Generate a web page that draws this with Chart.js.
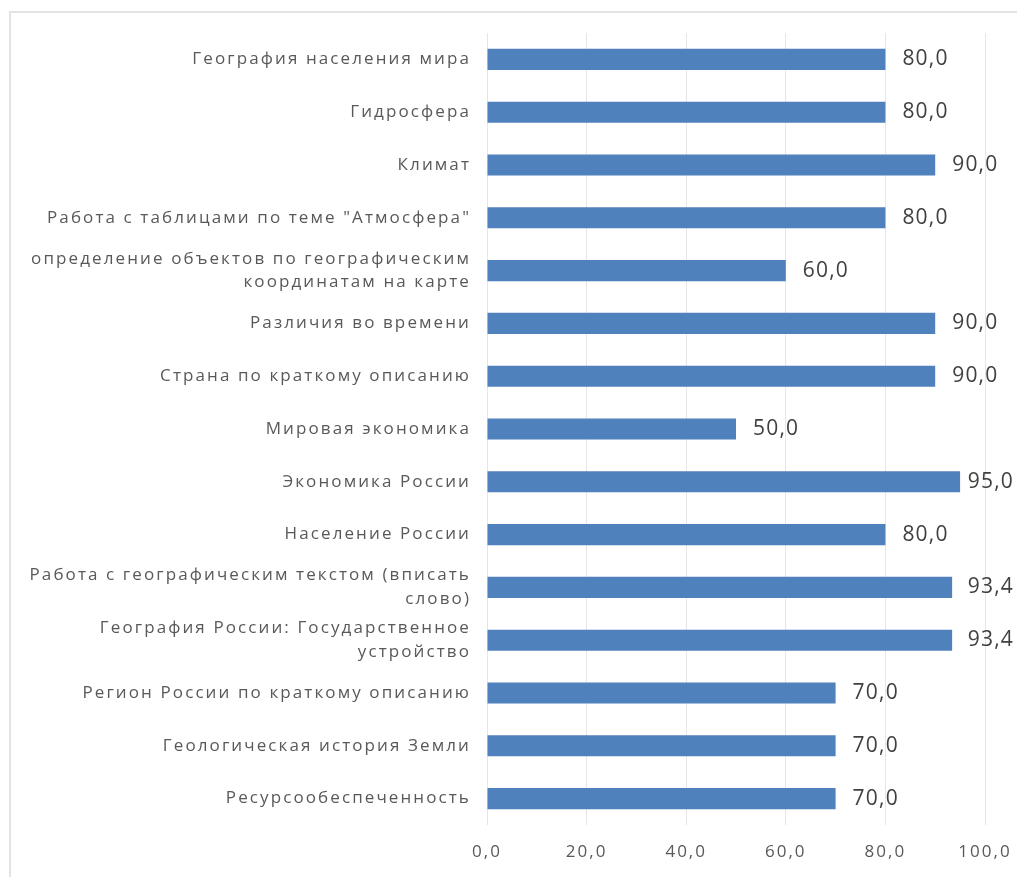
<!DOCTYPE html>
<html>
<head>
<meta charset="utf-8">
<script src="https://cdn.jsdelivr.net/npm/chart.js@4/dist/chart.umd.min.js"></script>
<style>
  body { margin: 0; background: #fff; overflow: hidden; }
  .frame { position: absolute; left: 9px; top: 11px; right: 0; bottom: 0; border-left: 2px solid #e3e3e3; border-top: 2px solid #e3e3e3; }
  .wrap { position: absolute; left: 0; top: 0; width: 1017px; height: 877px; }
</style>
</head>
<body>
<div class="frame"></div>
<div class="wrap"><canvas id="myChart"></canvas></div>
<script>
const topics = [
  'География населения мира',
  'Гидросфера',
  'Климат',
  'Работа с таблицами по теме "Атмосфера"',
  ['определение объектов по географическим', 'координатам на карте'],
  'Различия во времени',
  'Страна по краткому описанию',
  'Мировая экономика',
  'Экономика России',
  'Население России',
  ['Работа с географическим текстом (вписать', 'слово)'],
  ['География России: Государственное', 'устройство'],
  'Регион России по краткому описанию',
  'Геологическая история Земли',
  'Ресурсообеспеченность'
];
const scores = [80, 80, 90, 80, 60, 90, 90, 50, 95, 80, 93.4, 93.4, 70, 70, 70];
const xTicks = [0, 20, 40, 60, 80, 100];

const fmt = v => Number(v).toFixed(1).replace('.', ',');

// numbers at the end of each bar
const valueLabels = {
  id: 'valueLabels',
  afterDatasetsDraw(chart) {
    const c = chart.ctx;
    const meta = chart.getDatasetMeta(0);
    c.save();
    c.font = '21px "Open Sans"';
    c.letterSpacing = '1.2px';
    c.fillStyle = '#404040';
    c.textBaseline = 'middle';
    c.textAlign = 'left';
    meta.data.forEach((bar, i) => {
      const txt = fmt(scores[i]);
      const w = c.measureText(txt).width;
      let x = bar.x + 17;
      if (x + w > chart.width - 3) x = chart.width - 3 - w;
      c.fillText(txt, x, bar.y);
    });
    c.restore();
  }
};

// Excel-like spaced text on both axes
function spaceOut(chart, scale, gap) {
  if (scale._spaced) return;
  const orig = scale.drawLabels;
  scale.drawLabels = function (area) {
    chart.ctx.save();
    chart.ctx.letterSpacing = gap;
    orig.call(this, area);
    chart.ctx.restore();
  };
  scale._spaced = true;
}
const spacedTicks = {
  id: 'spacedTicks',
  afterLayout(chart) {
    spaceOut(chart, chart.scales.x, '2px');
    spaceOut(chart, chart.scales.y, '2.1px');
  }
};

const ctx = document.getElementById('myChart').getContext('2d');
new Chart(ctx, {
  type: 'bar',
  data: {
    labels: topics,
    datasets: [{
      data: scores,
      backgroundColor: '#4f81bd',
      barPercentage: 0.4,
      categoryPercentage: 1
    }]
  },
  options: {
    indexAxis: 'y',
    responsive: true,
    maintainAspectRatio: false,
    animation: false,
    layout: { padding: { top: 33, right: 32, left: 0, bottom: 0 } },
    plugins: { legend: { display: false }, tooltip: { enabled: false } },
    scales: {
      x: {
        min: 0,
        max: 100,
        afterBuildTicks: s => { s.ticks = xTicks.map(v => ({ value: v })); },
        afterFit: s => { s.height = 52; s.paddingLeft = 0; s.paddingRight = 0; },
        grid: { color: '#e6e6e6', drawTicks: false },
        border: { display: false },
        ticks: {
          padding: 17,
          color: '#595959',
          font: { family: '"Open Sans"', size: 17 },
          callback: v => fmt(v)
        }
      },
      y: {
        afterFit: s => { s.width = 487; },
        grid: { display: false, drawTicks: false },
        border: { display: false },
        ticks: {
          autoSkip: false,
          padding: 16,
          color: '#595959',
          font: { family: '"Open Sans"', size: 17, lineHeight: 1.4 }
        }
      }
    }
  },
  plugins: [valueLabels, spacedTicks]
});
</script>
</body>
</html>
